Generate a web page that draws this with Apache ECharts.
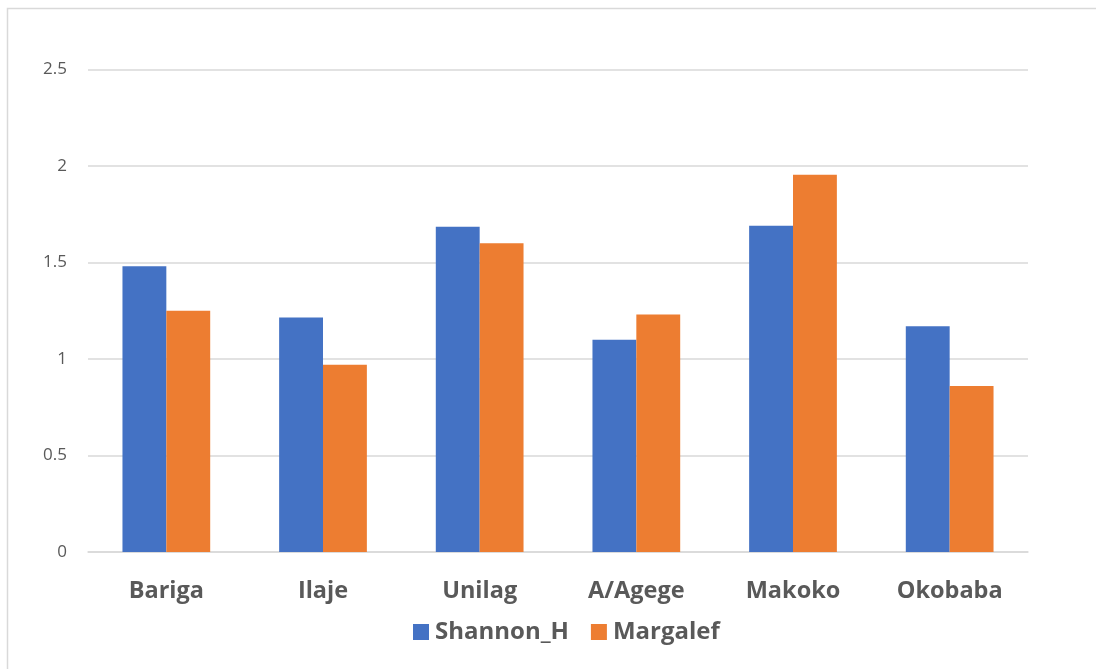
<!DOCTYPE html>
<html>
<head>
<meta charset="utf-8">
<script src="https://cdn.jsdelivr.net/npm/echarts@6/dist/echarts.min.js"></script>
<style>
  html, body { margin: 0; padding: 0; background: #ffffff; }
  #chart { width: 1096px; height: 669px; }
</style>
</head>
<body>
<div id="chart"></div>
<script>
// Diversity indices per sampling site
const sites = ['Bariga', 'Ilaje', 'Unilag', 'A/Agege', 'Makoko', 'Okobaba'];
const shannonH = [1.48, 1.215, 1.685, 1.10, 1.69, 1.17];
const margalef = [1.25, 0.97, 1.60, 1.23, 1.955, 0.86];
const seriesNames = ['Shannon_H', 'Margalef'];

const textColor = '#595959';
const gridColor = '#d9d9d9';
const fontFamily = '"Open Sans", "Liberation Sans", sans-serif';

const chart = echarts.init(document.getElementById('chart'), null, { renderer: 'canvas' });

chart.setOption({
  animation: false,
  backgroundColor: '#ffffff',
  graphic: [{
    type: 'rect',
    shape: { x: 7.5, y: 8.5, width: 1200, height: 800 },
    style: { fill: 'none', stroke: '#d9d9d9', lineWidth: 1.5 },
    silent: true
  }],
  grid: { left: 88, right: 68, top: 69.5, bottom: 117, containLabel: false },
  legend: {
    data: seriesNames,
    left: 408,
    top: 615,
    itemWidth: 16,
    itemHeight: 16,
    itemGap: 22,
    icon: 'rect',
    textStyle: { color: textColor, fontSize: 24, fontWeight: 'bold', fontFamily: fontFamily, padding: [0, 0, 0, 1] }
  },
  xAxis: {
    type: 'category',
    data: sites,
    axisLine: { show: true, lineStyle: { color: gridColor, width: 1.5 } },
    axisTick: { show: false },
    axisLabel: { color: textColor, fontSize: 23.5, fontWeight: 'bold', fontFamily: fontFamily, margin: 27 }
  },
  yAxis: {
    type: 'value',
    min: 0,
    max: 2.5,
    interval: 0.5,
    axisLine: { show: false },
    axisTick: { show: false },
    axisLabel: { color: textColor, fontSize: 17, fontFamily: fontFamily, margin: 21 },
    splitLine: { lineStyle: { color: gridColor, width: 1.5 } }
  },
  series: [
    {
      name: seriesNames[0],
      type: 'bar',
      data: shannonH,
      barGap: '0%',
      barCategoryGap: '44%',
      itemStyle: { color: '#4472C4' }
    },
    {
      name: seriesNames[1],
      type: 'bar',
      data: margalef,
      itemStyle: { color: '#ED7D31' }
    }
  ]
});
</script>
</body>
</html>
